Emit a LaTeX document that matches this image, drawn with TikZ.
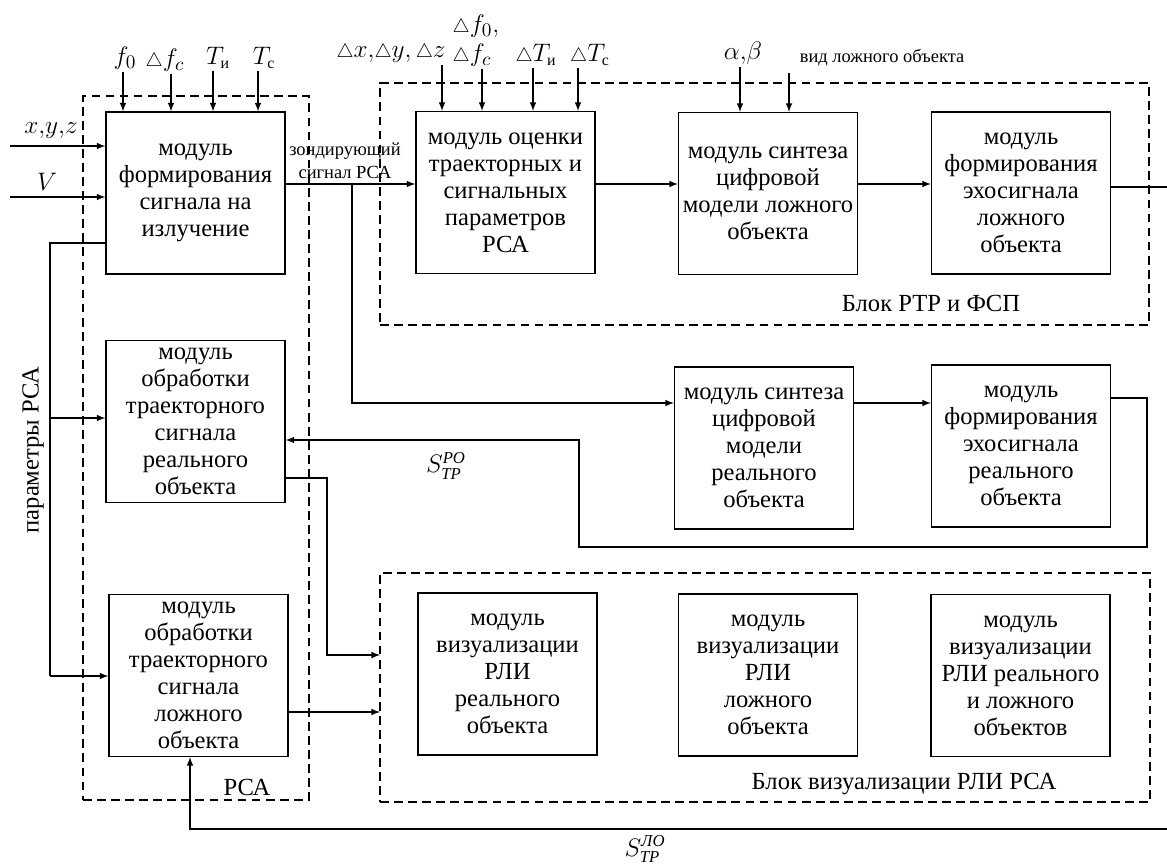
\documentclass[tikz,border=0pt]{standalone}
\usepackage{fontspec}
\setmainfont{Liberation Serif}
\usepackage{amsmath,amssymb}
\usetikzlibrary{arrows}

\newcommand\boxfont{\fontsize{14}{15.4}\selectfont}
\newcommand\lblfont{\fontsize{15}{18}\selectfont}
\newcommand\smallfont{\fontsize{10.5}{13}\selectfont}
\newcommand\grpfont{\fontsize{14}{16}\selectfont}
\newcommand\tri{\mathord{\scriptstyle\triangle}}
\newcommand\lowidx[1]{\mbox{\fontsize{9}{10}\selectfont #1}}
\newcommand\sigidx[1]{\mbox{\fontsize{9.5}{10}\selectfont\itshape #1}}

\begin{document}
\begin{tikzpicture}[x=0.02cm, y=-0.02cm, >=latex, line width=0.7pt]
        \tikzstyle{mdl}=[draw, align=center, inner sep=0pt, minimum width=3.58cm, minimum height=3.24cm, font=\boxfont]
        \tikzstyle{grp}=[draw, dash pattern=on 5pt off 3pt, inner sep=0pt, outer sep=0pt]
        \tikzstyle{lbl}=[inner sep=1pt, font=\lblfont]

        \useasboundingbox (0,0) rectangle (1167,866);

        % dashed blocks
        \node[grp, minimum width=4.52cm, minimum height=14.08cm] (rsa) at (196,448) {};
        \node[grp, minimum width=15.38cm, minimum height=4.84cm] (rtr) at (764.5,204) {};
        \node[grp, minimum width=15.4cm, minimum height=4.58cm] (viz) at (765,687.5) {};
        \node[font=\grpfont] (rsaname) at (247,787) {РСА};
        \node[font=\grpfont] (rtrname) at (931,303) {Блок РТР и ФСП};
        \node[font=\grpfont] (vizname) at (904,784) {Блок визуализации РЛИ РСА};

        % modules
        \node[mdl] (form) at (195.5,193) {модуль\\формирования\\сигнала на\\излучение};
        \node[mdl] (obrR) at (195.5,421.5) {модуль\\обработки\\траекторного\\сигнала\\реального\\объекта};
        \node[mdl] (obrL) at (198.5,675.5) {модуль\\обработки\\траекторного\\сигнала\\ложного\\объекта};
        \node[mdl] (ocen) at (505.5,192.5) {модуль оценки\\траекторных и\\сигнальных\\параметров\\РСА};
        \node[mdl] (sintL) at (768,193.5) {модуль синтеза\\цифровой\\модели ложного\\объекта};
        \node[mdl] (ehoL) at (1021,193) {модуль\\формирования\\эхосигнала\\ложного\\объекта};
        \node[mdl] (sintR) at (764,448) {модуль синтеза\\цифровой\\модели\\реального\\объекта};
        \node[mdl] (ehoR) at (1021,446) {модуль\\формирования\\эхосигнала\\реального\\объекта};
        \node[mdl] (vizR) at (507.5,674) {модуль\\визуализации\\РЛИ\\реального\\объекта};
        \node[mdl] (vizL) at (768,675) {модуль\\визуализации\\РЛИ\\ложного\\объекта};
        \node[mdl] (vizRL) at (1020.5,675.5) {модуль\\визуализации\\РЛИ реального\\и ложного\\объектов};

        % inputs of the radar
        \node[lbl] (xyz) at (51,131) {$x{,}y{,}z$};
        \node[lbl] (vel) at (47,182) {$V$};
        \coordinate (xyzin) at (10,146);
        \coordinate (velin) at (10,197);
        \draw[->] (xyzin) -- (xyzin -| form.west);
        \draw[->] (velin) -- (velin -| form.west);

        \node[lbl] (f0) at (125,58) {$f_0$};
        \node[lbl] (dfc) at (165,60) {$\tri f_c$};
        \node[lbl] (tu) at (218,58) {$T_{\lowidx{и}}$};
        \node[lbl] (tc) at (264,58) {$T_{\lowidx{с}}$};
        \foreach \l/\s in {f0/-0.04, dfc/0.12, tu/-0.1, tc/-0.12}
            \draw[->] ([xshift=\s cm]\l.south) coordinate (tmp) -- (tmp |- form.north);

        % inputs of the jamming block
        \node[lbl] (dxyz) at (391,53) {$\tri x{,}\tri y{,}\,\tri z$};
        \node[lbl] (df0) at (476,26) {$\tri f_0{,}$};
        \node[lbl] (dfc2) at (472,55) {$\tri f_c$};
        \node[lbl] (dtu) at (536,55) {$\tri T_{\lowidx{и}}$};
        \node[lbl] (dtc) at (590,55) {$\tri T_{\lowidx{с}}$};
        \foreach \l/\s in {dxyz/1.02, dfc2/0.2, dtu/-0.06, dtc/-0.24}
            \draw[->] ([xshift=\s cm]\l.south) coordinate (tmp) -- (tmp |- ocen.north);
        \node[lbl] (ab) at (743,53) {$\alpha{,}\beta$};
        \node[font=\smallfont] (vid) at (882,58) {вид ложного объекта};
        \draw[->] ([xshift=-0.06cm]ab.south) coordinate (tmp) -- (tmp |- sintL.north);
        \draw[->] ([xshift=-1.86cm]vid.south) coordinate (tmp) -- (tmp |- sintL.north);

        % radar parameters
        \node[rotate=90, font=\boxfont] (params) at (33,450) {параметры РСА};
        \coordinate (pl) at (50,243);
        \coordinate (pr) at (50,418);
        \coordinate (pb) at (50,676);
        \draw (pl -| form.west) -- (pl) -- (pb);
        \draw[->] (pb) -- (pb -| obrL.west);
        \draw[->] (pr) -- (pr -| obrR.west);

        % probing signal
        \coordinate (jz) at (352,184);
        \coordinate (jr) at (352,403);
        \node[font=\smallfont, align=center] (zond) at (345,161) {зондирующий\\сигнал РСА};
        \draw[->] (jz -| form.east) -- (jz -| ocen.west);
        \draw[->] (jz) -- (jr) -- (jr -| sintR.west);
        \draw[->] (jz -| ocen.east) -- (jz -| sintL.west);
        \draw[->] (jz -| sintL.east) -- (jz -| ehoL.west);
        \draw[->] (jr -| sintR.east) -- (jr -| ehoR.west);

        % echo signals
        \coordinate (outL) at (1167,187);
        \draw (outL -| ehoL.east) -- (outL);
        \coordinate (rr1) at (1147,398);
        \coordinate (rr2) at (1147,547);
        \coordinate (rr3) at (579,547);
        \coordinate (rr4) at (579,440);
        \draw[->] (rr1 -| ehoR.east) -- (rr1) -- (rr2) -- (rr3) -- (rr4) -- (rr4 -| obrR.east);
        \node[lbl] (spo) at (446,466) {$S^{\sigidx{РО}}_{\sigidx{ТР}}$};

        % to visualization
        \coordinate (vr1) at (327,478);
        \coordinate (vr2) at (327,655);
        \coordinate (vl) at (0,712);
        \draw[->] (vr1 -| obrR.east) -- (vr1) -- (vr2) -- (vr2 -| viz.west);
        \draw[->] (vl -| obrL.east) -- (vl -| viz.west);

        \coordinate (bl1) at (1167,829);
        \coordinate (bl2) at (190,829);
        \draw[->] (bl1) -- (bl2) -- (bl2 |- obrL.south);
        \node[lbl] (slo) at (645,849) {$S^{\sigidx{ЛО}}_{\sigidx{ТР}}$};

    \end{tikzpicture}
\end{document}
